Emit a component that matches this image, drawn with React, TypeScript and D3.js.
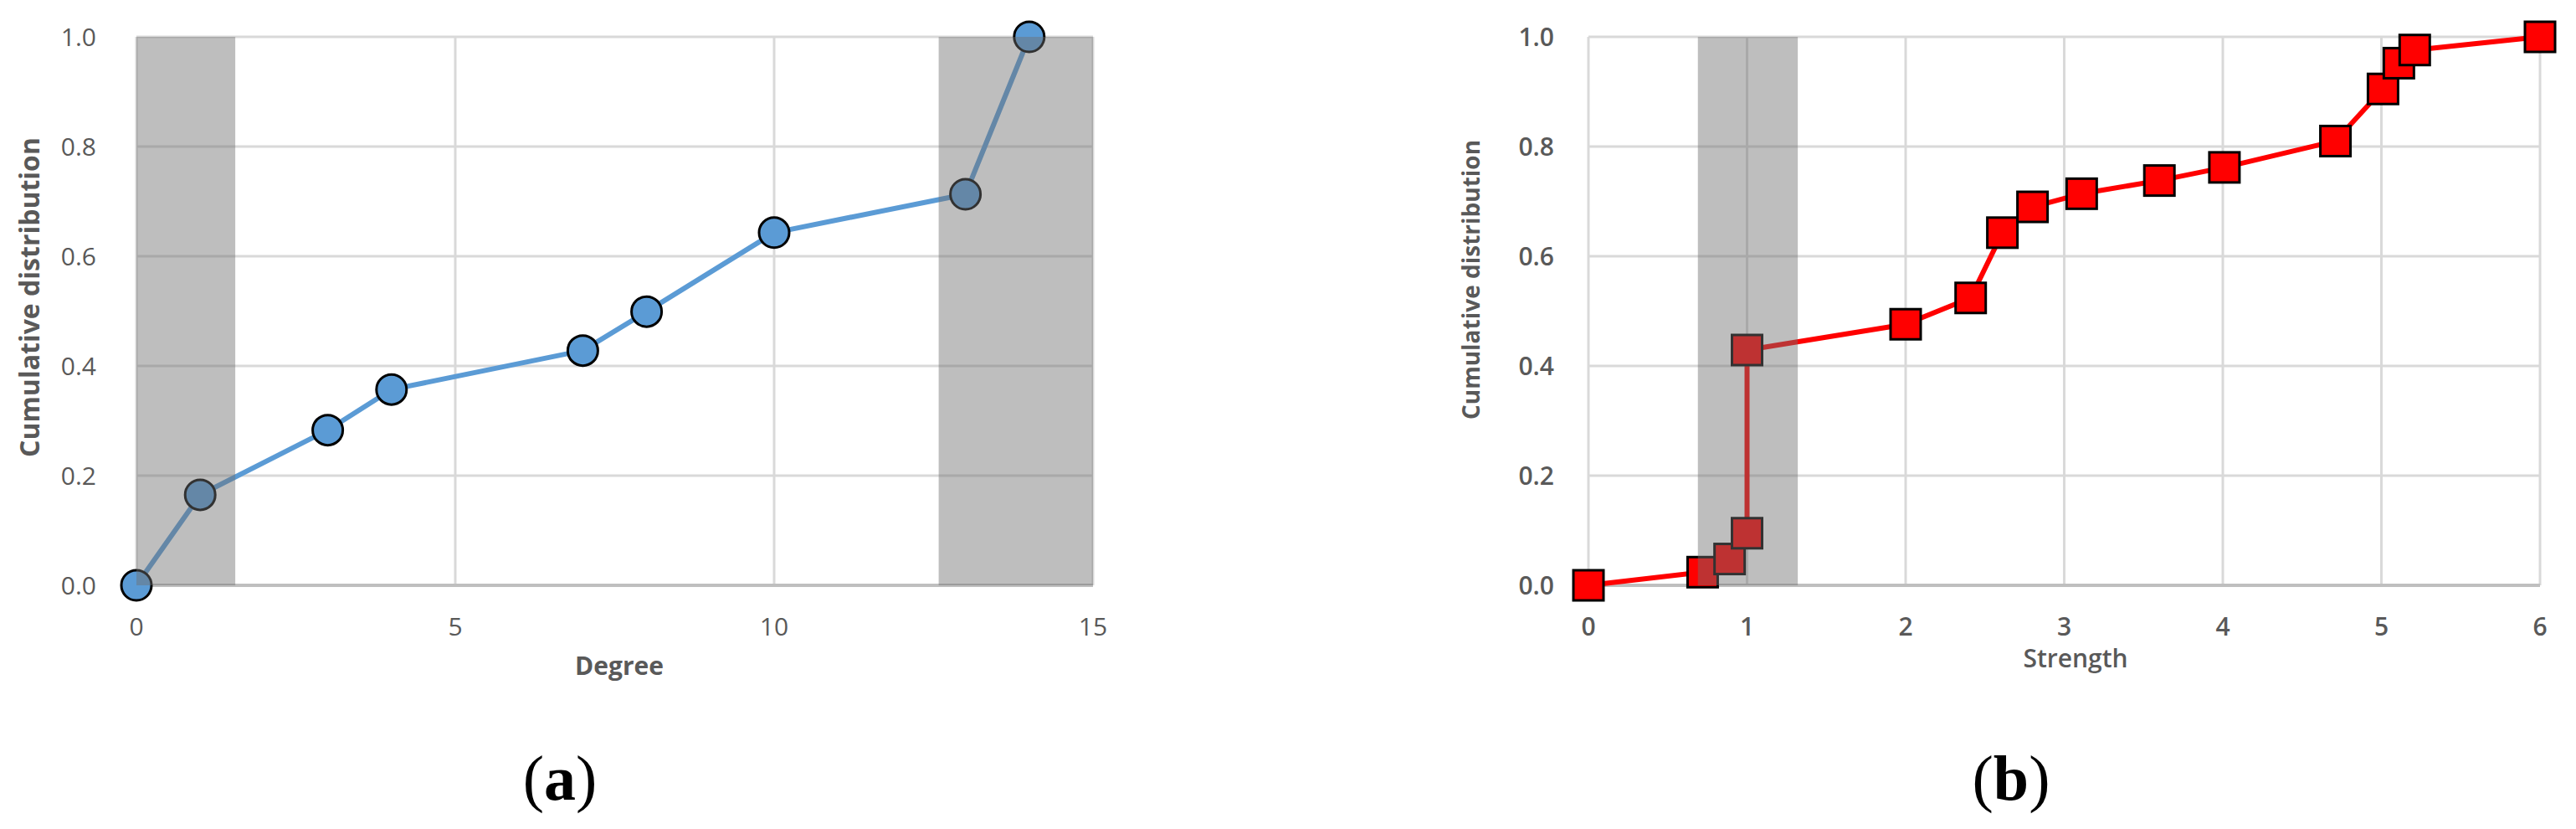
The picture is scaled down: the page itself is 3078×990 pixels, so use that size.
import React from 'react';
import * as d3 from 'd3';

// panel (a): degree
const degreeX = [0, 1, 3, 4, 7, 8, 10, 13, 14];
const degreeCdf = [0, 0.165, 0.283, 0.357, 0.428, 0.499, 0.643, 0.713, 1.0];
const degreeTicks = [0, 5, 10, 15];
const degreeBands = [[0, 1.55], [12.58, 15]];

// panel (b): strength
const strengthX = [0, 0.72, 0.89, 1.0, 1.0, 2.0, 2.41, 2.61, 2.8, 3.11, 3.6, 4.01, 4.71, 5.01, 5.11, 5.21, 6.0];
const strengthCdf = [0, 0.024, 0.048, 0.095, 0.429, 0.476, 0.524, 0.643, 0.69, 0.714, 0.738, 0.762, 0.81, 0.905, 0.952, 0.976, 1.0];
const strengthTicks = [0, 1, 2, 3, 4, 5, 6];
const strengthBands = [[0.69, 1.32]];

const yTicks = [0, 0.2, 0.4, 0.6, 0.8, 1.0];

const GRID = '#d9d9d9';
const TEXT = '#595959';
const BAND = 'rgba(110,110,110,0.45)';

type PanelProps = {
  xs: number[];
  ys: number[];
  xDomain: [number, number];
  xTicks: number[];
  bands: number[][];
  left: number;
  right: number;
  color: string;
  marker: 'circle' | 'square';
  xTitle: string;
  xTitleX: number;
  xTitleY: number;
  xTitleWeight: number;
  yTitleX: number;
  yTitleY: number;
  yTitleSize: number;
  tickWeight: number;
  tickGap: number;
  font: string;
};

const Panel = (p: PanelProps) => {
  const top = 44;
  const bottom = 699;
  const x = d3.scaleLinear().domain(p.xDomain).range([p.left, p.right]);
  const y = d3.scaleLinear().domain([0, 1]).range([bottom, top]);
  const pts = p.xs.map((v, i) => [v, p.ys[i]] as [number, number]);
  const line = d3.line<[number, number]>().x(d => x(d[0])).y(d => y(d[1]));
  const fmt = d3.format('.1f');

  return (
    <g fontFamily={p.font}>
      {/* grid */}
      {yTicks.filter(t => t > 0).map(t => (
        <line key={'h' + t} x1={p.left} x2={p.right} y1={y(t)} y2={y(t)} stroke={GRID} strokeWidth={3} />
      ))}
      {p.xTicks.map(t => (
        <line key={'v' + t} x1={x(t)} x2={x(t)} y1={top} y2={bottom} stroke={GRID} strokeWidth={3} />
      ))}
      <line x1={p.left} x2={p.right} y1={bottom} y2={bottom} stroke="#bfbfbf" strokeWidth={4} />

      {/* series */}
      <path d={line(pts) || ''} fill="none" stroke={p.color} strokeWidth={6} strokeLinejoin="round" />
      {pts.map((d, i) =>
        p.marker === 'circle' ? (
          <circle key={i} cx={x(d[0])} cy={y(d[1])} r={18} fill={p.color} stroke="#000" strokeWidth={3} />
        ) : (
          <rect key={i} x={x(d[0]) - 18} y={y(d[1]) - 18} width={36} height={36} fill={p.color} stroke="#000" strokeWidth={3} />
        )
      )}

      {/* shaded ranges drawn over everything */}
      {p.bands.map((b, i) => (
        <rect key={'b' + i} x={x(b[0])} y={top} width={x(b[1]) - x(b[0])} height={bottom - top} fill={BAND} />
      ))}

      {/* axes text */}
      {yTicks.map(t => (
        <text key={'yt' + t} x={p.left - p.tickGap} y={y(t) + 11} textAnchor="end" fontSize={30} fill={TEXT} fontWeight={p.tickWeight}>
          {fmt(t)}
        </text>
      ))}
      {p.xTicks.map(t => (
        <text key={'xt' + t} x={x(t)} y={759} textAnchor="middle" fontSize={30} fill={TEXT} fontWeight={p.tickWeight}>
          {t}
        </text>
      ))}
      <text x={p.xTitleX} y={p.xTitleY} textAnchor="middle" fontSize={30} fill={TEXT} fontWeight={p.xTitleWeight}>
        {p.xTitle}
      </text>
      <text
        transform={`translate(${p.yTitleX},${p.yTitleY}) rotate(-90)`}
        textAnchor="middle"
        dy="0.35em"
        fontSize={p.yTitleSize}
        fill={TEXT}
        fontWeight={700}
      >
        Cumulative distribution
      </text>
    </g>
  );
};

const App = () => {
  return (
    <svg width={3078} height={990} style={{ position: 'absolute', left: 0, top: 0, background: '#fff' }}>
      <rect width={3078} height={990} fill="#fff" />
      <Panel
        xs={degreeX}
        ys={degreeCdf}
        xDomain={[0, 15]}
        xTicks={degreeTicks}
        bands={degreeBands}
        left={163}
        right={1306}
        color="#5b9bd5"
        marker="circle"
        xTitle="Degree"
        xTitleX={740}
        xTitleY={806}
        xTitleWeight={700}
        yTitleX={36}
        yTitleY={355}
        yTitleSize={32}
        tickWeight={400}
        tickGap={48}
        font="'Open Sans', sans-serif"
      />
      <Panel
        xs={strengthX}
        ys={strengthCdf}
        xDomain={[0, 6]}
        xTicks={strengthTicks}
        bands={strengthBands}
        left={1898}
        right={3035}
        color="#ff0000"
        marker="square"
        xTitle="Strength"
        xTitleX={2480}
        xTitleY={797}
        xTitleWeight={600}
        yTitleX={1758}
        yTitleY={334}
        yTitleSize={28}
        tickWeight={600}
        tickGap={41}
        font="'Open Sans', sans-serif"
      />
      <text x={669} y={955} textAnchor="middle" fontFamily="'Liberation Serif', serif" fontSize={76} fill="#000">
        (<tspan fontWeight={700}>a</tspan>)
      </text>
      <text x={2403} y={955} textAnchor="middle" fontFamily="'Liberation Serif', serif" fontSize={76} fill="#000">
        (<tspan fontWeight={700}>b</tspan>)
      </text>
    </svg>
  );
};

export default App;
